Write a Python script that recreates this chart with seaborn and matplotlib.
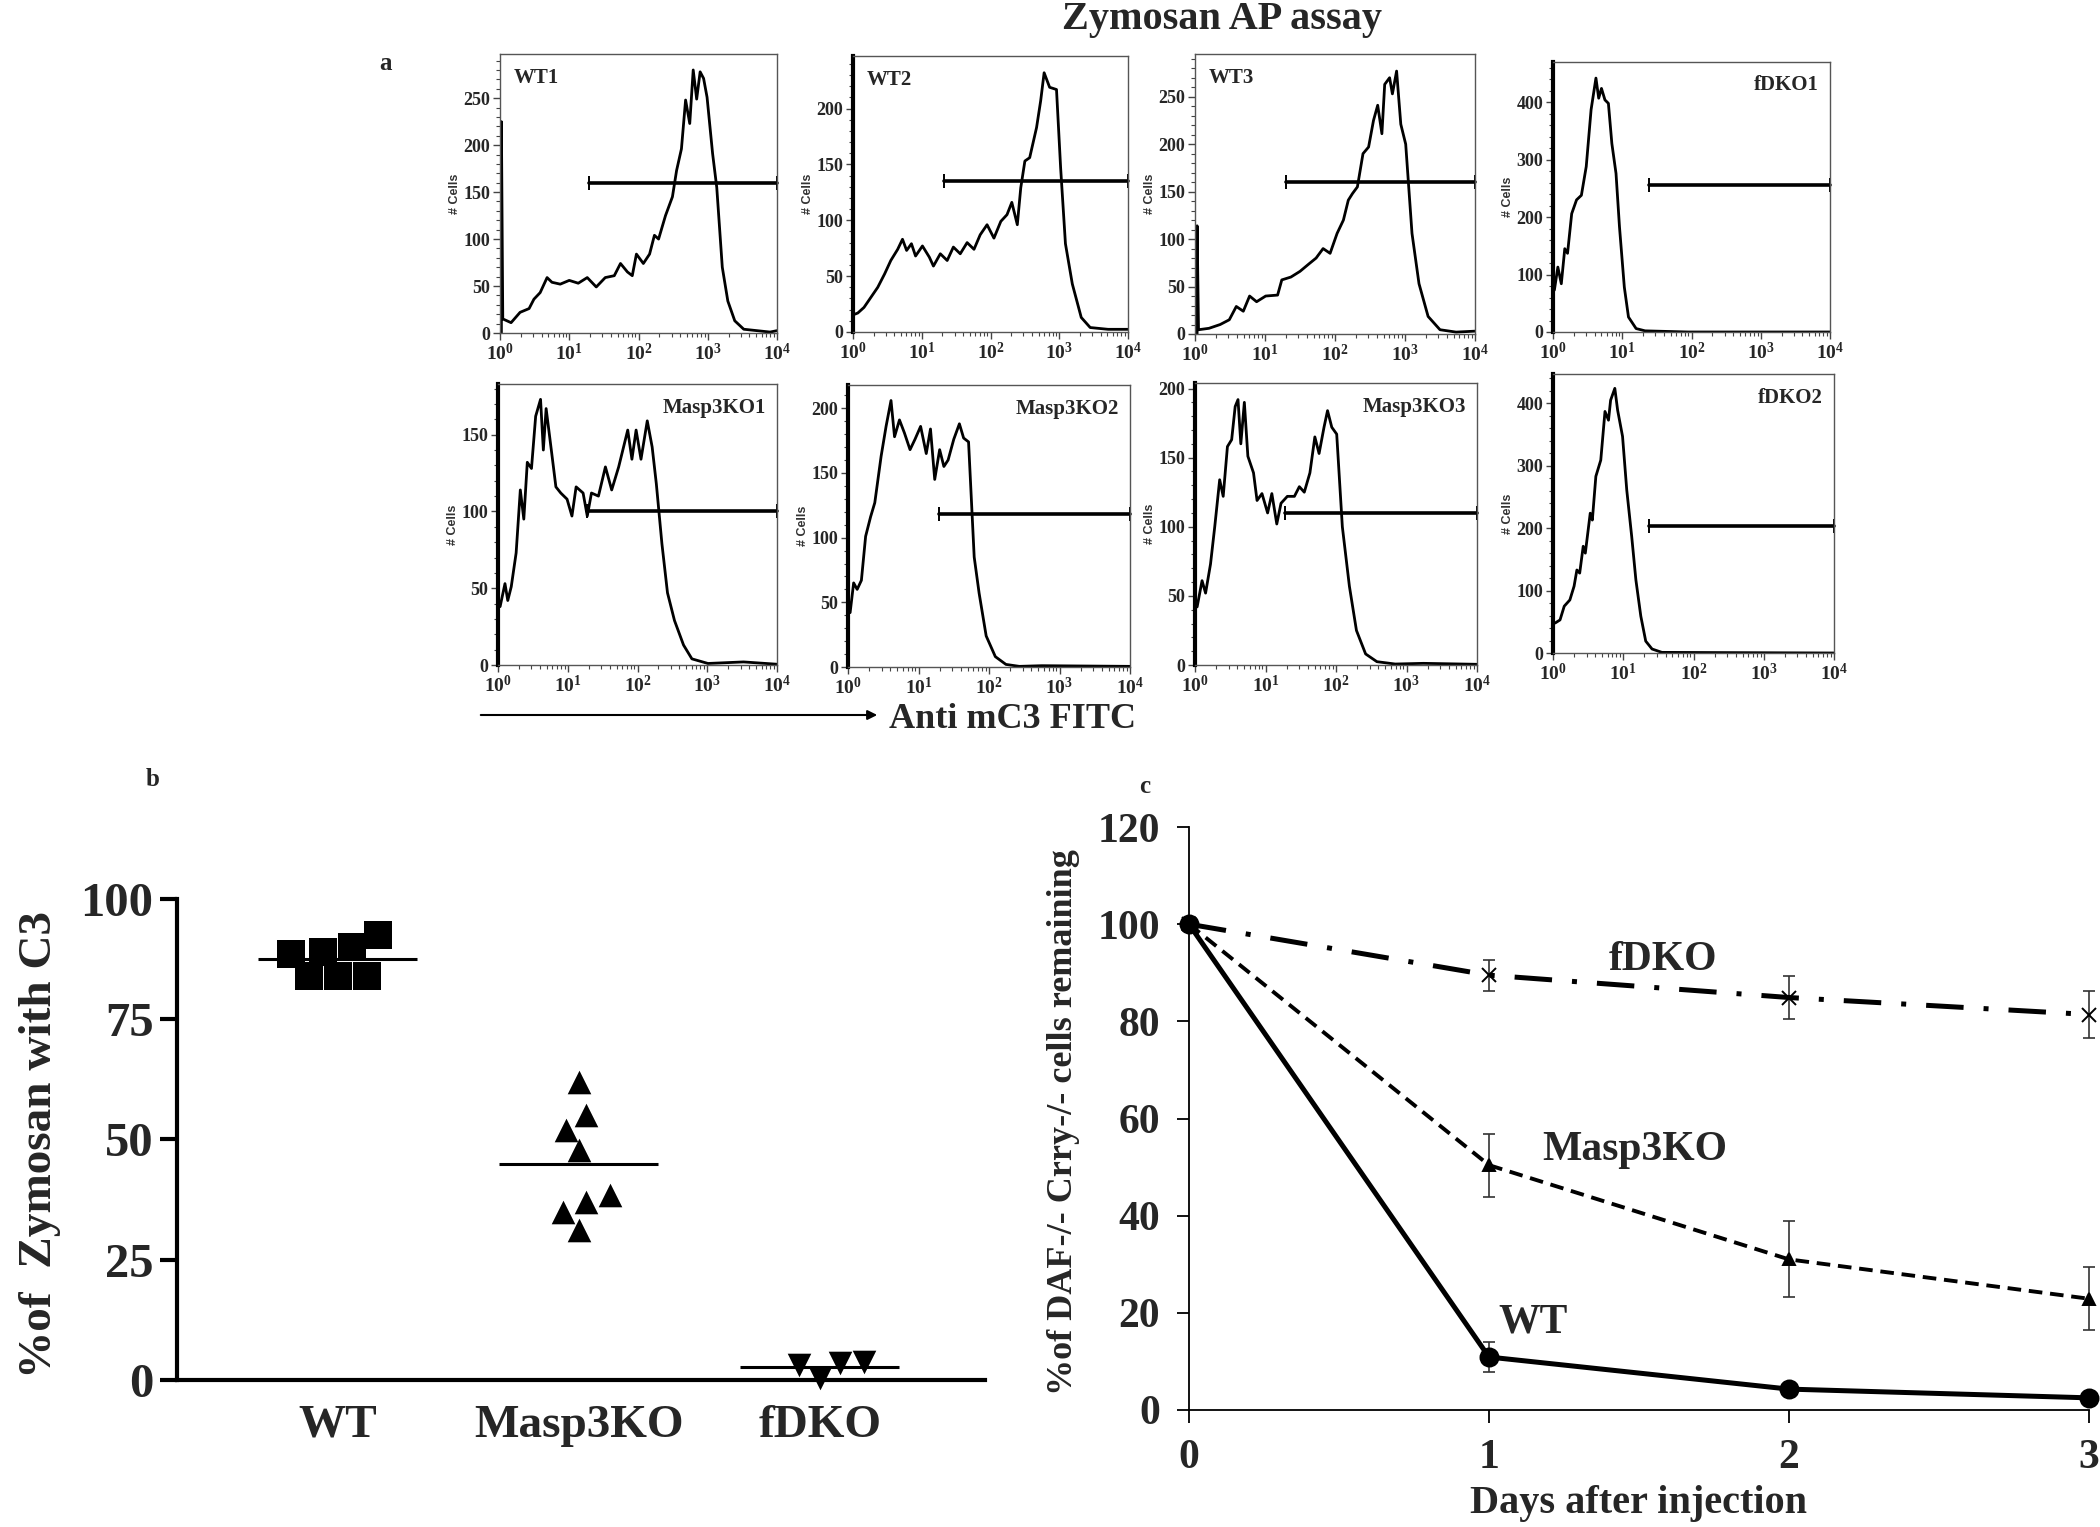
import numpy as np
import seaborn as sns
import matplotlib.pyplot as plt
from matplotlib.patches import FancyArrowPatch
from matplotlib.ticker import MultipleLocator, LogLocator, NullFormatter

sns.set_style('ticks')
plt.rcParams['font.family'] = ['Liberation Serif', 'DejaVu Serif']
plt.rcParams['font.weight'] = 'bold'
plt.rcParams['mathtext.fontset'] = 'custom'
plt.rcParams['mathtext.rm'] = 'Liberation Serif:bold'
plt.rcParams['mathtext.it'] = 'Liberation Serif:bold'
plt.rcParams['mathtext.bf'] = 'Liberation Serif:bold'

# ---------------- panel a: flow histograms (log10 channel, # cells) ----------------
wt1 = [(0.02, 0), (0.02, 225), (0.04, 15), (0.16, 11), (0.29, 22), (0.42, 26), (0.49, 36),
       (0.58, 43), (0.68, 59), (0.75, 54), (0.87, 52), (1.00, 56), (1.13, 53), (1.26, 59),
       (1.39, 49), (1.52, 59), (1.65, 61), (1.74, 74), (1.84, 65), (1.91, 61), (1.97, 84),
       (2.07, 74), (2.16, 84), (2.23, 104), (2.29, 100), (2.39, 125), (2.49, 145), (2.55, 173),
       (2.62, 196), (2.68, 248), (2.74, 223), (2.79, 280), (2.84, 249), (2.89, 278), (2.94, 271),
       (2.99, 251), (3.07, 191), (3.13, 155), (3.21, 70), (3.29, 34), (3.39, 13), (3.52, 4),
       (3.71, 2.5), (3.90, 1), (4.00, 2.5)]
wt2 = [(0.03, 16), (0.07, 17), (0.16, 22), (0.26, 31), (0.36, 40), (0.46, 52), (0.55, 64),
       (0.65, 74), (0.72, 83), (0.78, 73), (0.85, 79), (0.91, 68), (1.01, 77), (1.11, 67),
       (1.17, 59), (1.27, 70), (1.37, 64), (1.46, 76), (1.56, 70), (1.66, 80), (1.76, 74),
       (1.85, 87), (1.95, 96), (2.05, 84), (2.15, 99), (2.24, 105), (2.31, 116), (2.39, 96),
       (2.44, 129), (2.50, 153), (2.57, 156), (2.67, 183), (2.73, 207), (2.78, 232), (2.86, 219),
       (2.96, 217), (3.02, 147), (3.09, 79), (3.19, 43), (3.32, 13), (3.45, 4), (3.71, 2.4),
       (4.00, 2.4)]
wt3 = [(0.03, 0), (0.03, 114), (0.05, 4.5), (0.20, 6), (0.36, 10), (0.49, 15), (0.59, 29),
       (0.69, 24), (0.78, 40), (0.88, 34), (1.01, 40), (1.18, 41), (1.24, 57), (1.37, 60),
       (1.50, 66), (1.63, 74), (1.73, 80), (1.83, 90), (1.93, 85), (2.03, 106), (2.12, 120),
       (2.19, 141), (2.25, 148), (2.32, 155), (2.40, 190), (2.48, 197), (2.55, 225), (2.61, 241),
       (2.67, 211), (2.71, 263), (2.78, 270), (2.82, 253), (2.88, 277), (2.94, 221), (3.01, 200),
       (3.10, 106), (3.20, 53), (3.33, 18.5), (3.50, 4.5), (3.73, 2), (4.00, 3)]
fdko1 = [(0.02, 73), (0.07, 113), (0.12, 84), (0.17, 145), (0.21, 137), (0.27, 206), (0.34, 230),
         (0.41, 238), (0.48, 288), (0.55, 387), (0.62, 442), (0.66, 407), (0.70, 424), (0.75, 404),
         (0.80, 398), (0.85, 328), (0.91, 276), (0.96, 183), (1.03, 78), (1.09, 26), (1.20, 6),
         (1.33, 2), (1.95, 0), (4.00, 0)]
masp1 = [(0.03, 38), (0.10, 53), (0.14, 42), (0.19, 51), (0.26, 73), (0.32, 114), (0.37, 95),
         (0.42, 132), (0.48, 128), (0.54, 162), (0.61, 173), (0.65, 140), (0.69, 167), (0.77, 138),
         (0.83, 116), (0.90, 112), (0.99, 108), (1.06, 97), (1.12, 116), (1.22, 112), (1.28, 97),
         (1.34, 112), (1.44, 110), (1.54, 129), (1.63, 114), (1.73, 129), (1.86, 153), (1.92, 134),
         (1.98, 153), (2.05, 134), (2.14, 159), (2.21, 142), (2.27, 118), (2.35, 79), (2.43, 47),
         (2.53, 29), (2.66, 13), (2.78, 4), (3.01, 1), (3.52, 2), (4.00, 0.5)]
masp2 = [(0.03, 42), (0.08, 65), (0.13, 60), (0.19, 67), (0.25, 101), (0.32, 116), (0.38, 127),
         (0.47, 163), (0.54, 186), (0.61, 206), (0.66, 178), (0.73, 191), (0.80, 181), (0.88, 168),
         (0.95, 176), (1.03, 186), (1.11, 165), (1.17, 184), (1.23, 145), (1.30, 168), (1.36, 155),
         (1.42, 160), (1.50, 176), (1.58, 188), (1.64, 177), (1.71, 174), (1.79, 85), (1.86, 57),
         (1.96, 24), (2.09, 8), (2.24, 2), (2.43, 0.5), (2.75, 1), (4.00, 0.5)]
masp3 = [(0.03, 42), (0.10, 61), (0.15, 52), (0.22, 73), (0.28, 100), (0.35, 134), (0.40, 122),
         (0.46, 158), (0.52, 163), (0.57, 187), (0.61, 192), (0.65, 160), (0.70, 190), (0.75, 151),
         (0.83, 139), (0.88, 119), (0.95, 124), (1.03, 110), (1.09, 124), (1.16, 102), (1.22, 117),
         (1.31, 122), (1.41, 122), (1.48, 129), (1.55, 125), (1.63, 139), (1.70, 165), (1.76, 153),
         (1.83, 172), (1.88, 184), (1.94, 172), (2.01, 167), (2.09, 100), (2.19, 57), (2.29, 25),
         (2.42, 8), (2.58, 2.4), (2.84, 0.7), (3.24, 1.2), (4.00, 0.5)]
fdko2 = [(0.03, 48), (0.10, 53), (0.16, 75), (0.24, 85), (0.30, 107), (0.34, 133), (0.38, 128),
         (0.43, 171), (0.46, 160), (0.53, 224), (0.56, 213), (0.61, 283), (0.68, 309), (0.74, 387),
         (0.79, 373), (0.82, 405), (0.88, 424), (0.92, 389), (0.99, 347), (1.05, 261), (1.12, 187),
         (1.18, 117), (1.25, 59), (1.32, 19), (1.41, 6.4), (1.55, 1), (4.00, 0)]

hist_names = ['WT1', 'WT2', 'WT3', 'fDKO1', 'Masp3KO1', 'Masp3KO2', 'Masp3KO3', 'fDKO2']
hist_data = [wt1, wt2, wt3, fdko1, masp1, masp2, masp3, fdko2]
hist_ymax = [297, 247, 295, 470, 183, 218, 204, 447]
gate_start = [19.5, 21, 20, 24.5, 19, 19.5, 18.6, 23]
gate_height = [160, 135, 160, 256, 100, 118, 110, 204]

# ---------------- panel b: % zymosan with C3 ----------------
groups = ['WT', 'Masp3KO', 'fDKO']
wt_zym = [92.5, 89, 88.5, 90, 84, 84, 84]
masp_zym = [62, 52, 55, 47.8, 37, 38.5, 35, 31.2]
fdko_zym = [3.5, 0.5, 3.8, 3.2]

# ---------------- panel c: cells remaining ----------------
days = [0, 1, 2, 3]
wt_remain = [100, 10.9, 4.3, 2.5]
wt_err = [0, 3.0, 0.6, 0.5]
masp_remain = [100, 50.4, 31.0, 22.9]
masp_err = [0, 6.5, 7.8, 6.5]
fdko_remain = [100, 89.5, 84.9, 81.4]
fdko_err = [0, 3.2, 4.5, 4.9]

W, H = 2100, 1527
fig = plt.figure(figsize=(21, 15.27), dpi=100)


def px_axes(x0, y0, x1, y1):
    # axes placed by pixel box (top-left origin)
    return fig.add_axes([x0 / W, 1 - y1 / H, (x1 - x0) / W, (y1 - y0) / H])


hist_boxes = [(500, 54, 777, 333), (853, 56, 1128, 332), (1195, 54, 1475, 334), (1553, 62, 1830, 332),
              (498, 384, 777, 665), (848, 385, 1130, 667), (1195, 383, 1477, 665), (1553, 374, 1834, 653)]
thick_left = [False, True, False, True, True, True, True, True]

for name, pts, ymax, g0, gh, box, thick in zip(hist_names, hist_data, hist_ymax, gate_start,
                                                gate_height, hist_boxes, thick_left):
    ax = px_axes(*box)
    ax.set_xscale('log')
    dec, cells = np.array(pts).T
    sns.lineplot(x=10 ** dec, y=cells, estimator=None, sort=False, color='black', lw=2, ax=ax)
    ax.plot([g0, 1e4], [gh, gh], color='black', lw=2.6, marker='|', ms=10, mew=1.4, clip_on=False)
    ax.set_xlim(1, 1e4)
    ax.set_ylim(0, ymax)
    step = 100 if ymax > 400 else 50
    ax.yaxis.set_major_locator(MultipleLocator(step))
    ax.yaxis.set_minor_locator(MultipleLocator(step / 5))
    ax.xaxis.set_major_locator(LogLocator(base=10, numticks=6))
    ax.xaxis.set_minor_locator(LogLocator(base=10, subs=np.arange(2, 10), numticks=20))
    ax.xaxis.set_minor_formatter(NullFormatter())
    ax.tick_params(which='major', length=5, width=1, labelsize=13, pad=2, color='#444')
    ax.tick_params(which='minor', length=3, width=0.8, color='#444')
    ax.tick_params(axis='x', labelsize=14)
    for s in ax.spines.values():
        s.set_color('#555')
        s.set_linewidth(1)
    if thick:
        ax.spines['left'].set_color('black')
        ax.spines['left'].set_linewidth(3)
    ax.set_ylabel('# Cells', fontsize=9, fontweight='bold', family='Liberation Sans', color='#333',
                  labelpad=2)
    ax.set_xlabel('')
    if name.startswith('WT'):
        ax.text(0.05, 0.95, name, transform=ax.transAxes, ha='left', va='top', fontsize=15)
    else:
        ax.text(0.96, 0.95, name, transform=ax.transAxes, ha='right', va='top', fontsize=15)

fig.text(1222 / W, 1 - 20 / H, 'Zymosan AP assay', ha='center', va='center', fontsize=29)
fig.text(386 / W, 1 - 64 / H, 'a', ha='center', va='center', fontsize=18)
fig.add_artist(FancyArrowPatch((478 / W, 1 - 715 / H), (880 / W, 1 - 715 / H), transform=fig.transFigure,
                               arrowstyle='-|>', mutation_scale=14, lw=1.5, color='black'))
fig.text(889 / W, 1 - 720 / H, 'Anti mC3 FITC', ha='left', va='center', fontsize=26)

# ---------------- panel b ----------------
axb = px_axes(177, 899, 985, 1404)
for vals, grp, mk, sz in zip([wt_zym, masp_zym, fdko_zym], groups, ['s', '^', 'v'], [20, 17, 17]):
    sns.swarmplot(x=[grp] * len(vals), y=vals, order=groups, marker=mk, size=sz,
                  color='black', linewidth=0, ax=axb)
    i = groups.index(grp)
    axb.hlines(np.mean(vals), i - 0.33, i + 0.33, color='black', lw=2.2, zorder=4)
axb.set_xlim(-0.668, 2.685)
axb.set_ylim(-5, 100)
axb.set_yticks([0, 25, 50, 75, 100])
sns.despine(ax=axb)
axb.spines['bottom'].set_position(('data', 0))
axb.spines['left'].set_bounds(0, 100)
for s in ['left', 'bottom']:
    axb.spines[s].set_linewidth(3)
    axb.spines[s].set_color('black')
axb.tick_params(axis='y', length=12, width=3, labelsize=35, pad=5, color='black')
axb.tick_params(axis='x', length=0, labelsize=34, pad=18)
for c in axb.collections:
    c.set_clip_on(False)
fig.text(40 / W, 1 - 1145 / H, '%of  Zymosan with C3', rotation=90, ha='center', va='center', fontsize=34)
fig.text(153 / W, 1 - 780 / H, 'b', ha='center', va='center', fontsize=18)

# ---------------- panel c ----------------
axc = px_axes(1189, 827, 2089, 1410)
series = [
    (fdko_remain, fdko_err, 'x', 10, (0, (7.5, 4, 1, 4)), 3.6),
    (masp_remain, masp_err, '^', 9, (0, (3.5, 2)), 2.8),
    (wt_remain, wt_err, 'o', 13, '-', 3.6),
]
for vals, err, mk, ms, ls, lw in series:
    axc.errorbar(days, vals, yerr=err, fmt='none', ecolor='#333', elinewidth=1.2, capsize=4,
                 capthick=1.2, zorder=2, clip_on=False)
    sns.lineplot(x=days, y=vals, estimator=None, color='black', marker=mk, markersize=ms,
                 markeredgecolor='black', markeredgewidth=1.4, linestyle=ls, lw=lw,
                 clip_on=False, zorder=3, ax=axc)
axc.text(1.58, 92.6, 'fDKO', ha='center', va='center', fontsize=30)
axc.text(1.487, 53.5, 'Masp3KO', ha='center', va='center', fontsize=30)
axc.text(1.147, 18.1, 'WT', ha='center', va='center', fontsize=30)
axc.set_xlim(0, 3)
axc.set_ylim(0, 120)
axc.set_xticks(days)
axc.set_yticks(range(0, 121, 20))
sns.despine(ax=axc)
for s in ['left', 'bottom']:
    axc.spines[s].set_linewidth(1.3)
    axc.spines[s].set_color('black')
axc.tick_params(length=9, width=1.3, labelsize=30, pad=12, color='black')
fig.text(1639 / W, 1 - 1503 / H, 'Days after injection', ha='center', va='center', fontsize=29)
fig.text(1063 / W, 1 - 1122 / H, '%of DAF-/- Crry-/- cells remaining', rotation=90,
         ha='center', va='center', fontsize=26)
fig.text(1145 / W, 1 - 786 / H, 'c', ha='center', va='center', fontsize=18)

fig.savefig('out.png', dpi=100)
